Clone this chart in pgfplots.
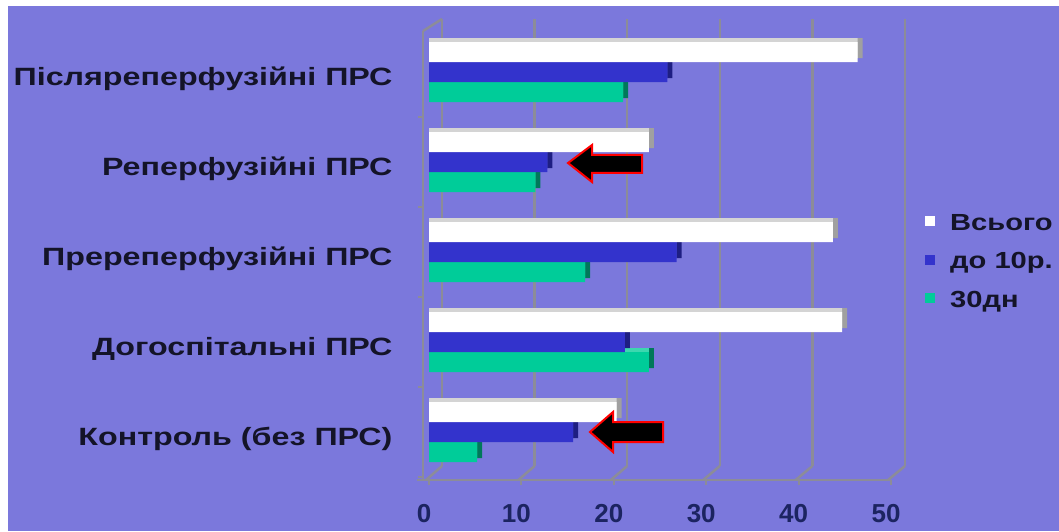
\documentclass[border=0pt]{standalone}
\usepackage{fontspec}
\setmainfont{Liberation Sans}
\newfontfamily\labfont[FakeStretch=1.29]{Liberation Sans}
\newfontfamily\legfont[FakeStretch=1.25]{Liberation Sans}
\usepackage{pgfplots}
\usepackage{pgfplotstable}
\pgfplotsset{compat=1.18}
\definecolor{bg}{RGB}{123,120,220}
\definecolor{grd}{RGB}{140,140,152}
\definecolor{cwhite}{RGB}{255,255,255}
\definecolor{cwhiteT}{RGB}{212,212,212}
\definecolor{cwhiteE}{RGB}{160,160,160}
\definecolor{cblue}{RGB}{51,51,204}
\definecolor{cblueT}{RGB}{80,80,215}
\definecolor{cblueE}{RGB}{30,30,130}
\definecolor{cteal}{RGB}{0,204,153}
\definecolor{ctealT}{RGB}{60,215,175}
\definecolor{ctealE}{RGB}{0,120,90}
\definecolor{navy}{RGB}{28,36,97}
\definecolor{txt}{RGB}{20,20,40}

\pgfplotstableread{
y total d10 d30
0 20.3 15.6 5.2
1 44.7 21.2 23.8
2 43.7 26.8 16.9
3 23.8 12.8 11.5
4 46.4 25.8 21.0
}\data

\begin{document}
\begin{tikzpicture}[x=1pt,y=1pt]
\path[use as bounding box] (0,0) rectangle (1059,531);
\fill[white] (0,0) rectangle (1059,531);
\fill[bg] (8,0) rectangle (1059,525);

% back wall with grid
\begin{axis}[
  at={(442pt,65pt)}, anchor=south west, scale only axis,
  width=463pt, height=447pt,
  xmin=0, xmax=50, ymin=0, ymax=1,
  axis line style={draw=none},
  xtick={0,10,...,50}, xticklabels={}, ytick=\empty,
  major tick length=0pt,
  xmajorgrids, grid style={grd, line width=2.5pt},
]
\end{axis}

% floor / wall decoration
\draw[grd, line width=2.5pt] (423,500) -- (442,512);
\draw[grd, line width=2.5pt] (417,51) -- (423,51);
\foreach \k in {0,...,5} \draw[grd, line width=2.5pt] ({426+92.4*\k},51) -- ({442+92.6*\k},65);

% front axis with bars
\begin{axis}[
  at={(423pt,51pt)}, anchor=south west, scale only axis,
  width=468pt, height=449pt,
  xmin=-0.65, xmax=50, ymin=-0.533, ymax=4.456,
  axis x line*=bottom, axis y line*=left,
  axis line style={grd, line width=2.5pt, -},
  xtick={0,10,...,50},
  ytick={0,1,2,3,4},
  yticklabels={Контроль (без ПРС), Догоспітальні ПРС, Пререперфузійні ПРС, Реперфузійні ПРС, Післяреперфузійні ПРС},
  minor ytick={-0.5,0.5,1.5,2.5,3.5,4.5},
  tick align=outside,
  major tick length=5pt, minor tick length=5pt,
  major y tick style={draw=none},
  minor y tick style={grd, line width=1.5pt},
  major x tick style={grd, line width=2pt},
  /pgf/number format/assume math mode=true,
  xticklabel style={font=\bfseries\fontsize{26pt}{30pt}\selectfont, text=navy, anchor=center, yshift=-29pt, xshift=-5pt},
  yticklabel style={font=\labfont\bfseries\fontsize{25pt}{30pt}\selectfont, text=txt, anchor=east, xshift=-22pt, yshift=-7pt},
  legend style={at={(1.0726,0.5947)}, anchor=north west, draw=none, fill=none,
    font=\legfont\bfseries\fontsize{23.3pt}{28pt}\selectfont, text=txt,
    row sep=16.5pt, column sep=15pt, inner sep=0pt,
    nodes={inner sep=0pt, text height=17pt, text depth=5pt}},
  legend cell align=left,
  reverse legend,
  legend image code/.code={\fill[#1] (0pt,-2pt) rectangle (10pt,8pt);},
]
\addplot[xbar, bar width=20pt, bar shift=-16pt, xshift=5pt, fill=ctealE, draw=none, forget plot] table[x=d30,y=y]{\data};
\addplot[xbar, bar width=20pt, bar shift=-16pt, fill=ctealT, draw=none, forget plot] table[x=d30,y=y]{\data};
\addplot[xbar, bar width=20pt, bar shift=-20pt, fill=cteal, draw=none] table[x=d30,y=y]{\data};
\addlegendentry{30дн}
\addplot[xbar, bar width=20pt, bar shift=4pt, xshift=5pt, fill=cblueE, draw=none, forget plot] table[x=d10,y=y]{\data};
\addplot[xbar, bar width=20pt, bar shift=4pt, fill=cblueT, draw=none, forget plot] table[x=d10,y=y]{\data};
\addplot[xbar, bar width=20pt, bar shift=0pt, fill=cblue, draw=none] table[x=d10,y=y]{\data};
\addlegendentry{до 10р.}
\addplot[xbar, bar width=20pt, bar shift=24pt, xshift=5pt, fill=cwhiteE, draw=none, forget plot] table[x=total,y=y]{\data};
\addplot[xbar, bar width=20pt, bar shift=24pt, fill=cwhiteT, draw=none, forget plot] table[x=total,y=y]{\data};
\addplot[xbar, bar width=20pt, bar shift=20pt, fill=cwhite, draw=none] table[x=total,y=y]{\data};
\addlegendentry{Всього}
\end{axis}

% annotation arrows
\filldraw[fill=black, draw=red, line width=2pt, line join=miter]
  (568,368) -- (592,386) -- (592,376) -- (642,376) -- (642,358) -- (592,358) -- (592,349) -- cycle;
\filldraw[fill=black, draw=red, line width=2pt, line join=miter]
  (590,99) -- (613,119) -- (613,109) -- (663,109) -- (663,89) -- (613,89) -- (613,79) -- cycle;
\end{tikzpicture}
\end{document}
